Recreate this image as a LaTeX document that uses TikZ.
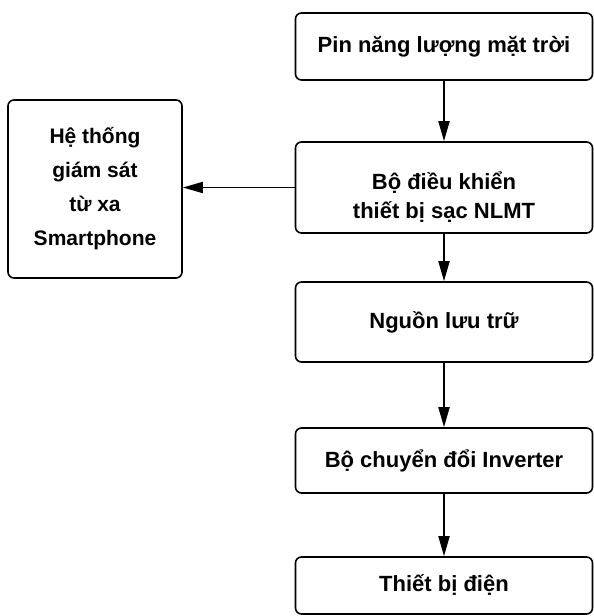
\documentclass[tikz,border=0pt]{standalone}
\usepackage{fontspec}
\setmainfont{Liberation Sans}
\usetikzlibrary{arrows.meta}
\tikzset{
  box/.style={draw=black, line width=1.6pt, rounded corners=6pt, align=center,
    inner sep=0pt, font=\fontsize{22}{29}\selectfont\bfseries},
  conn/.style={line width=1.8pt, -{Triangle[length=20pt,width=11pt]}}
}
\begin{document}
\begin{tikzpicture}[x=1pt,y=-1pt]
\useasboundingbox[fill=white] (0,0) rectangle (594,616);
\node[box, minimum width=297pt, minimum height=67pt] (b1) at (444,46.5) {Pin năng lượng mặt trời};
\node[box, minimum width=297pt, minimum height=91pt] (b2) at (444,187.5) {\rule{0pt}{36pt}Bộ điều khiển\\thiết bị sạc NLMT};
\node[box, minimum width=297pt, minimum height=80pt] (b3) at (444,322) {Nguồn lưu trữ};
\node[box, minimum width=297pt, minimum height=65pt] (b4) at (444,460.5) {Bộ chuyển đổi Inverter};
\node[box, minimum width=297pt, minimum height=57pt] (b5) at (444,585.5) {Thiết bị điện};
\node[box, minimum width=174pt, minimum height=178pt, font=\fontsize{21}{34}\selectfont\bfseries] (l) at (95,189) {Hệ thống\\giám sát\\từ xa\\Smartphone};
\draw[conn] (b1) -- (b2);
\draw[conn] (b2) -- (b3);
\draw[conn] (b3) -- (b4);
\draw[conn] (b4) -- (b5);
\draw[conn] (b2.west) -- (b2.west -| l.east);
\end{tikzpicture}
\end{document}
